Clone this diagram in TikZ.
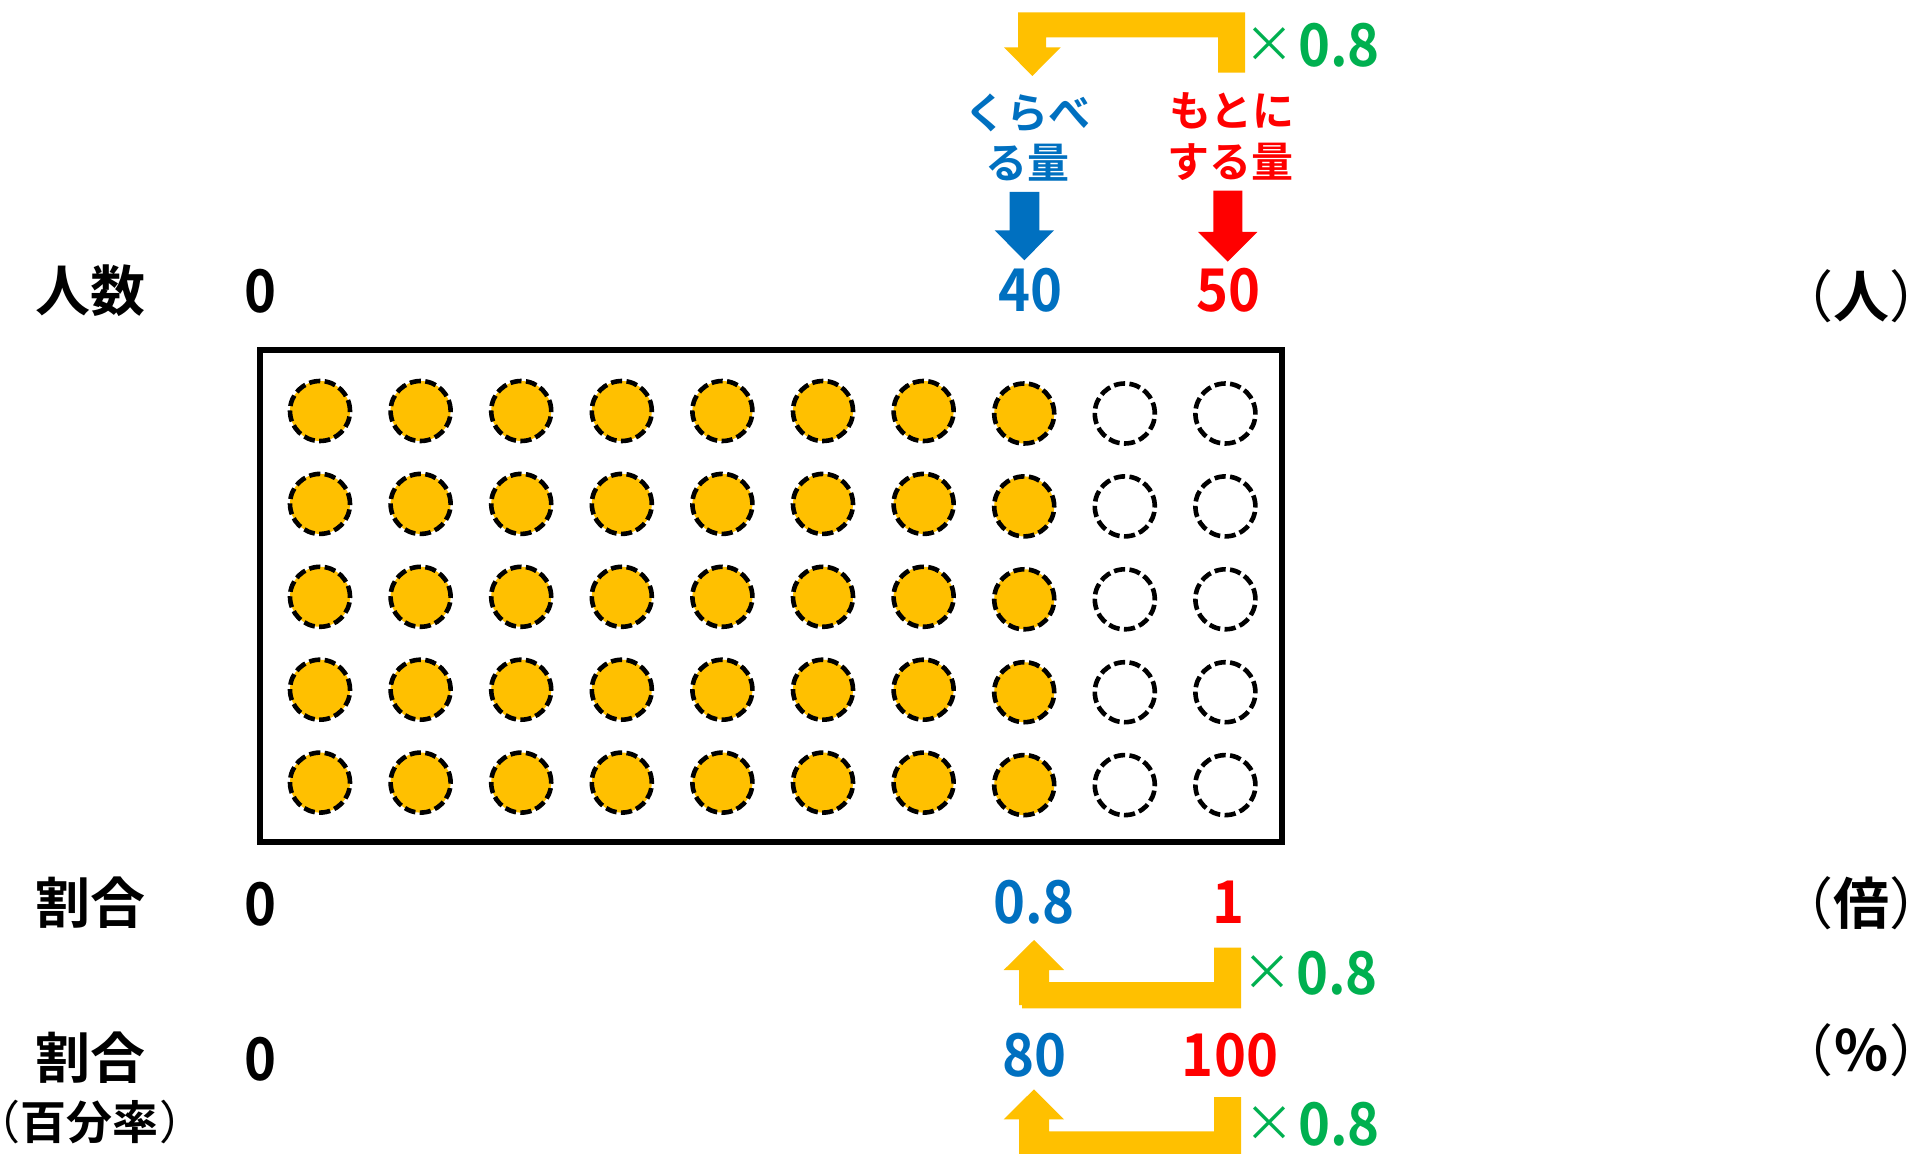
\documentclass[tikz,border=0pt]{standalone}
\usepackage{fontspec}
\setmainfont{Noto Sans CJK JP}[BoldFont=* Bold]
\newfontfamily\numfont{Noto Sans CJK JP}[UprightFont=* Bold,FakeStretch=0.92]
\newfontfamily\pfont{Noto Sans CJK JP}[RawFeature=+palt]
\definecolor{cGold}{HTML}{FFC000}
\definecolor{cBlue}{HTML}{0070C0}
\definecolor{cRed}{HTML}{FF0000}
\definecolor{cGreen}{HTML}{00B050}
\newcommand{\sz}[1]{\fontsize{#1}{#1}\selectfont}
\newcommand{\lp}{{\pfont\mdseries（}\kern1pt}
\newcommand{\rp}{\kern1pt{\pfont\mdseries）}}
\newcommand{\mult}{\raisebox{1.8pt}{\pfont\mdseries\sz{25pt}×}\kern2pt 0.8}
\tikzset{
  num/.style={anchor=base,inner sep=0pt,font=\numfont\sz{29.5pt}},
  jphead/.style={anchor=base,inner sep=0pt,font=\bfseries\sz{27.5pt}},
  jpsub/.style={anchor=base,inner sep=0pt,font=\bfseries\sz{23pt}},
  jpunit/.style={anchor=base,inner sep=0pt,font=\bfseries\sz{28pt}},
  jpterm/.style={anchor=base,inner sep=0pt,font=\bfseries\sz{21pt}},
  goldarrow/.style={fill=cGold,draw=none},
  dot/.style={circle,draw=black,line width=2.3pt,dash pattern=on 5.6pt off 2.2pt,minimum size=30pt,inner sep=0pt},
  dotfull/.style={dot,fill=cGold},
  frame/.style={draw=black,line width=3.4pt}
}
\begin{document}
\begin{tikzpicture}[x=0.5pt,y=-0.5pt]
\path[use as bounding box,fill=white] (0,0) rectangle (1917,1154);

% frame
\draw[frame] (260,350) rectangle (1282,842);

% dots
\foreach \c in {0,...,9}{
  \foreach \r in {0,...,4}{
    \pgfmathsetmacro{\px}{320+\c*100.6}
    \pgfmathsetmacro{\py}{411+\r*92.9+(\c>6?2.5:0)}
    \ifnum\c<8
      \node[dotfull] (d\c-\r) at (\px,\py) {};
    \else
      \node[dot] (d\c-\r) at (\px,\py) {};
    \fi
  }
}

% gold bent arrows
\fill[goldarrow] (1245,12.3) -- (1018,12.3) -- (1018,47.3) -- (1004,47.3) -- (1032.3,76) -- (1060.7,47.3) -- (1046,47.3) -- (1046,37.3) -- (1218,37.3) -- (1218,72.7) -- (1245,72.7) -- cycle;
\fill[goldarrow] (1241,947.7) -- (1214,947.7) -- (1214,982) -- (1049,982) -- (1049,970) -- (1064,970) -- (1034,940) -- (1003.7,970) -- (1019,970) -- (1019,1005) -- (1022,1005) -- (1022,1008.3) -- (1241,1008.3) -- cycle;
\fill[goldarrow] (1241,1097) -- (1214,1097) -- (1214,1131.3) -- (1049,1131.3) -- (1049,1119.3) -- (1064,1119.3) -- (1034,1089.3) -- (1003.7,1119.3) -- (1019,1119.3) -- (1019,1154) -- (1241,1154) -- cycle;

% blue and red arrows
\fill[cBlue] (1009.7,192) -- (1039.3,192) -- (1039.3,230.3) -- (1054,230.3) -- (1024.3,260.3) -- (994.7,230.3) -- (1009.7,230.3) -- cycle;
\fill[cRed] (1213.3,190.7) -- (1242.3,190.7) -- (1242.3,232) -- (1257.3,232) -- (1227.7,261.7) -- (1198,232) -- (1213.3,232) -- cycle;

% row titles
\node[jphead] (t1) at (90.5,311.5) {人数};
\node[jphead] (t2) at (90,923.5) {割合};
\node[jphead] (t3) at (90,1078.5) {割合};
\node[jpsub] (t4) at (90,1139) {\lp 百分率\rp};

% zeros
\node[num] (z1) at (260.4,312.5) {0};
\node[num] (z2) at (260.4,925) {0};
\node[num] (z3) at (260.4,1080.5) {0};

% values
\node[num,text=cBlue] (v40) at (1030.3,311.5) {40};
\node[num,text=cRed] (v50) at (1228.5,311.5) {50};
\node[num,text=cBlue] (v08) at (1034,923.2) {0.8};
\node[num,text=cRed] (v1) at (1228.8,923.5) {1};
\node[num,text=cBlue] (v80) at (1034.5,1076.5) {80};
\node[num,text=cRed] (v100) at (1230,1076.5) {100};

% units
\node[jpunit] (u1) at (1861,318) {\lp 人\rp};
\node[jpunit] (u2) at (1861,924) {\lp 倍\rp};
\node[jpunit] (u3) at (1861,1071) {\lp ％\rp};

% terms
\node[jpterm,text=cBlue] (k1) at (1027,129) {くらべ};
\node[jpterm,text=cBlue] (k2) at (1027,179) {る量};
\node[jpterm,text=cRed] (m1) at (1231.7,127) {もとに};
\node[jpterm,text=cRed] (m2) at (1230.8,177.7) {する量};

% multipliers
\node[num,text=cGreen] (x1) at (1312,66.5) {\mult};
\node[num,text=cGreen] (x2) at (1310,994.5) {\mult};
\node[num,text=cGreen] (x3) at (1312,1145) {\mult};
\end{tikzpicture}
\end{document}
